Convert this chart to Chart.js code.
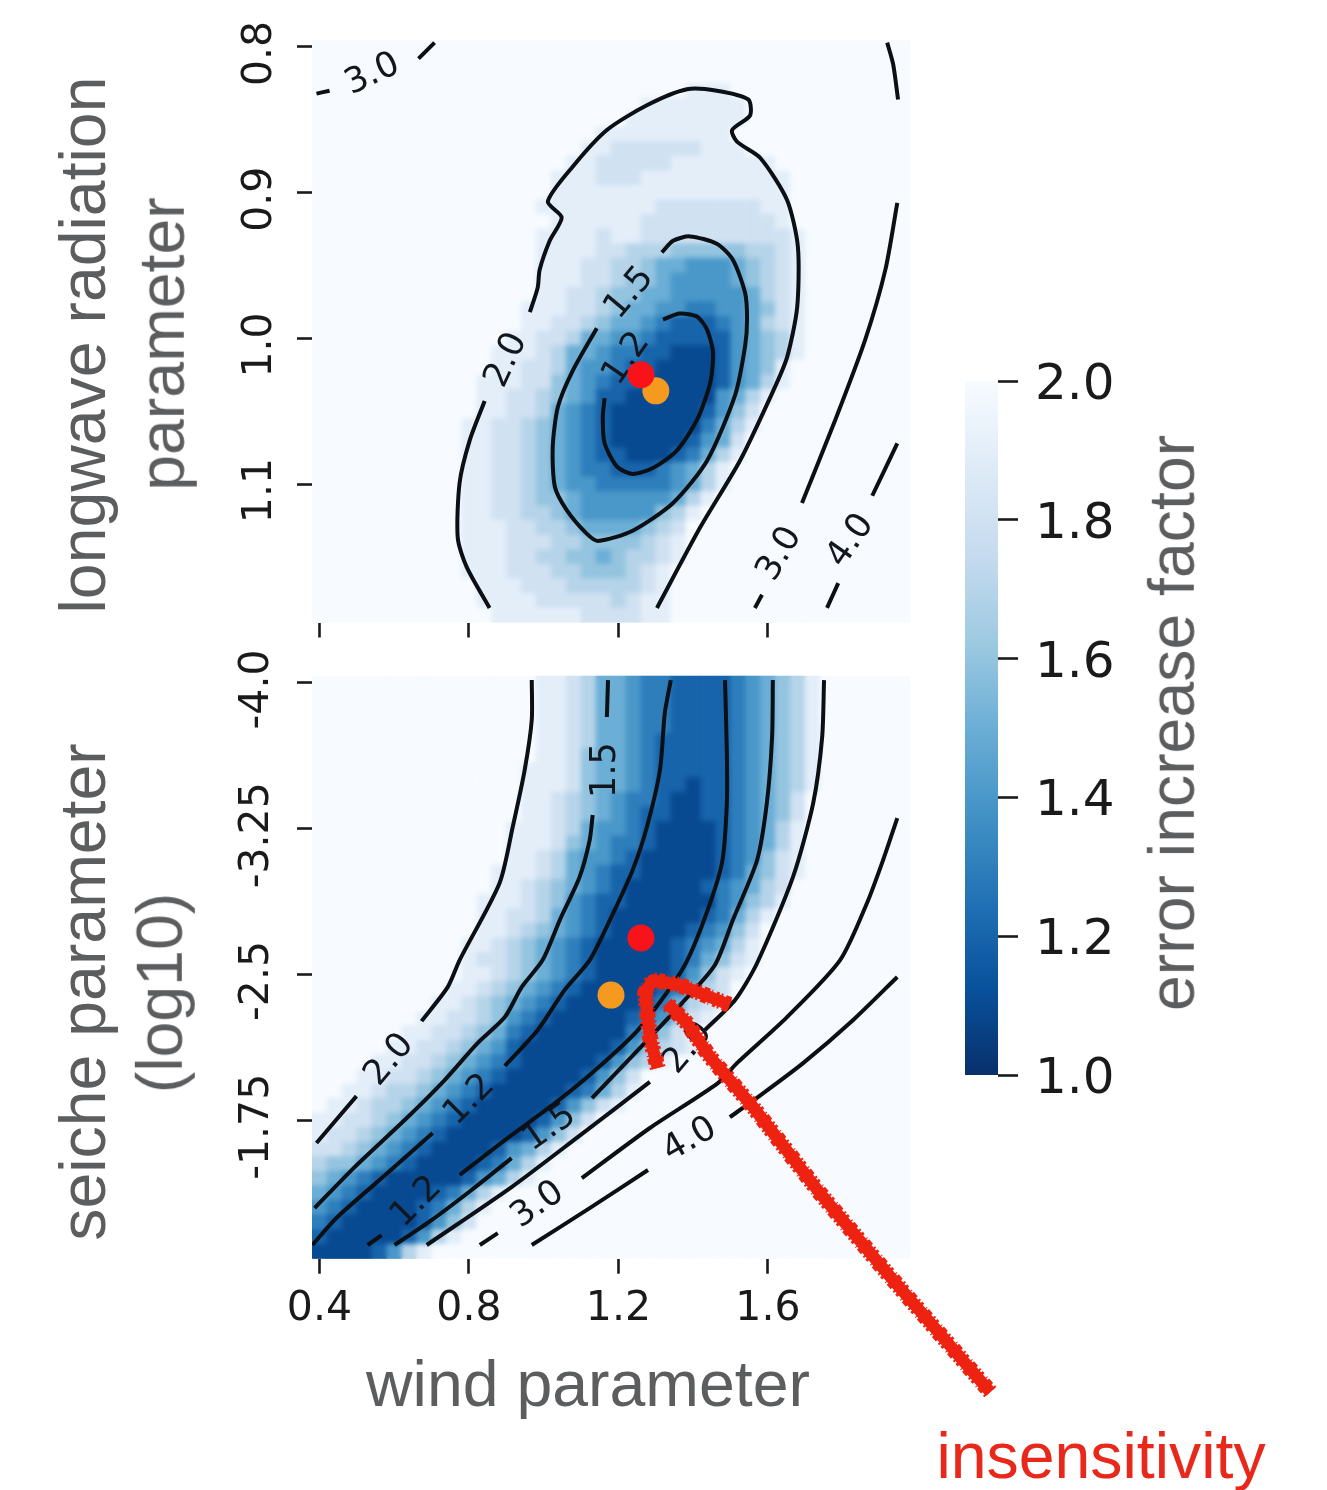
<!DOCTYPE html>
<html>
<head>
<meta charset="utf-8">
<title>error increase factor</title>
<script src="https://cdn.jsdelivr.net/npm/chart.js@4"></script>
<style>
  body { margin: 0; background: #fff; overflow: hidden; width: 1327px; height: 1490px; position: relative; }
  canvas { position: absolute; left: 0; top: 0; filter: blur(0.6px); }
  .txt {
    position: absolute; white-space: nowrap; color: #5c5d5f;
    font-family: "Liberation Sans", Arial, sans-serif; font-size: 64.4px; line-height: 1;
    transform: translate(-50%, -50%);
  }
  .v { transform: translate(-50%, -50%) rotate(-90deg); }
</style>
</head>
<body>
<canvas id="topChart" width="1327" height="1490"></canvas>
<canvas id="bottomChart" width="1327" height="1490"></canvas>
<canvas id="barChart" width="1327" height="1490"></canvas>

<div class="txt v" style="left:83px;top:345px">longwave radiation</div>
<div class="txt v" style="left:162px;top:344px">parameter</div>
<div class="txt v" style="left:83px;top:992px">seiche parameter</div>
<div class="txt v" style="left:160px;top:993px">(log10)</div>
<div class="txt" style="left:588px;top:1384px">wind parameter</div>
<div class="txt v" style="left:1172px;top:723px">error increase factor</div>
<div class="txt" style="left:1101px;top:1456px;color:#e8281a">insensitivity</div>

<script>
// ========================================
// DATA
// ========================================

const xTicks = [0.4, 0.8, 1.2, 1.6];
const xTickLabels = ["0.4", "0.8", "1.2", "1.6"];
const yTopTicks = [0.8, 0.9, 1.0, 1.1];
const yTopTickLabels = ["0.8", "0.9", "1.0", "1.1"];
const yBottomTicks = [-4.0, -3.25, -2.5, -1.75];
const yBottomTickLabels = ["-4.0", "-3.25", "-2.5", "-1.75"];
const barTicks = [1.0, 1.2, 1.4, 1.6, 1.8, 2.0];

// grid centres of the heatmaps: x starts at 0.4 step 0.04, y at the first tick
const xStart = 0.4, xStep = 0.04;
const yTopStart = 0.8, yTopStep = 0.01;
const yBottomStart = -4.0, yBottomStep = 0.075;

// one char per cell, 0-9 then a: value = 1 + char/10 (a = 2.0)
const topCells = [
  "aaaaaaaaaa aaaaaaaaaa aaaaaaaaaa aaaaaaaaaa",
  "aaaaaaaaaa aaaaaaaaaa aaaaaaaaaa aaaaaaaaaa",
  "aaaaaaaaaa aaaaaaaaaa aaaaaaaaaa aaaaaaaaaa",
  "aaaaaaaaaa aaaaaaaaaa aaaaa999aa aaaaaaaaaa",
  "aaaaaaaaaa aaaaaaaaaa aa9999999a aaaaaaaaaa",
  "aaaaaaaaaa aaaaaaaaaa a99999999a aaaaaaaaaa",
  "aaaaaaaaaa aaaaaaaaa9 99999999aa aaaaaaaaaa",
  "aaaaaaaaaa aaaaaaaa99 888888999a aaaaaaaaaa",
  "aaaaaaaaaa aaaaaaa998 8888999999 9aaaaaaaaa",
  "aaaaaaaaaa aaaaaa9998 8899999999 99aaaaaaaa",
  "aaaaaaaaaa aaaaaa9999 9999999999 99aaaaaaaa",
  "aaaaaaaaaa aaaaa99999 9998888888 99aaaaaaaa",
  "aaaaaaaaaa aaaaaa9999 9988888888 89aaaaaaaa",
  "aaaaaaaaaa aaaaa99998 9988888888 889aaaaaaa",
  "aaaaaaaaaa aaaaa99998 8777666667 789aaaaaaa",
  "aaaaaaaaaa aaaaa99988 7765544456 789aaaaaaa",
  "aaaaaaaaaa aaaaa99988 7665444456 789aaaaaaa",
  "aaaaaaaaaa aaaaa99887 6655444445 789aaaaaaa",
  "aaaaaaaaaa aaaa999887 6554433445 689aaaaaaa",
  "aaaaaaaaaa aaaa998876 5543222345 789aaaaaaa",
  "aaaaaaaaaa aaa9988755 4432222245 679aaaaaaa",
  "aaaaaaaaaa aa99987554 3322111245 679aaaaaaa",
  "aaaaaaaaaa aa99887544 3221111245 69aaaaaaaa",
  "aaaaaaaaaa a999886543 2211111245 79aaaaaaaa",
  "aaaaaaaaaa a998876542 2111111457 9aaaaaaaaa",
  "aaaaaaaaaa a998875432 1111112468 aaaaaaaaaa",
  "aaaaaaaaaa 9988765432 1111113579 aaaaaaaaaa",
  "aaaaaaaaaa 9988765432 111112458a aaaaaaaaaa",
  "aaaaaaaaaa 9988765432 211123579a aaaaaaaaaa",
  "aaaaaaaaaa 9988765433 22234579aa aaaaaaaaaa",
  "aaaaaaaaaa 9988765443 33334579aa aaaaaaaaaa",
  "aaaaaaaaaa 9988766544 4444579aaa aaaaaaaaaa",
  "aaaaaaaaaa 9988776544 444679aaaa aaaaaaaaaa",
  "aaaaaaaaaa 9998877655 55678aaaaa aaaaaaaaaa",
  "aaaaaaaaaa 9998887766 66789aaaaa aaaaaaaaaa",
  "aaaaaaaaaa 9998877665 67789aaaaa aaaaaaaaaa",
  "aaaaaaaaaa 9998887766 6789aaaaaa aaaaaaaaaa",
  "aaaaaaaaaa a999888777 7789aaaaaa aaaaaaaaaa",
  "aaaaaaaaaa a999988888 7899aaaaaa aaaaaaaaaa",
  "aaaaaaaaaa aa99999988 8899aaaaaa aaaaaaaaaa",
];

const bottomCells = [
  "aaaaaaaaaa aaaaa99875 5433222234 5679aaaaaa",
  "aaaaaaaaaa aaaaa99875 5433222234 5679aaaaaa",
  "aaaaaaaaaa aaaaa99875 5433222234 5679aaaaaa",
  "aaaaaaaaaa aaaaa99875 5433222234 5679aaaaaa",
  "aaaaaaaaaa aaaaa99875 5432222234 5679aaaaaa",
  "aaaaaaaaaa aaaaa99865 5432222234 5679aaaaaa",
  "aaaaaaaaaa aaaa999865 5432222234 5679aaaaaa",
  "aaaaaaaaaa aaaa999865 5432212234 5679aaaaaa",
  "aaaaaaaaaa aaaa998765 4332112234 568aaaaaaa",
  "aaaaaaaaaa aaaa998765 4322112234 568aaaaaaa",
  "aaaaaaaaaa aaa9998754 4321111234 579aaaaaaa",
  "aaaaaaaaaa aaa9998654 3321111234 579aaaaaaa",
  "aaaaaaaaaa aaa9987544 3211111234 689aaaaaaa",
  "aaaaaaaaaa aa99987543 2211111235 689aaaaaaa",
  "aaaaaaaaaa aa99876543 2111112345 78aaaaaaaa",
  "aaaaaaaaaa a999876432 2111111346 79aaaaaaaa",
  "aaaaaaaaaa a998875432 1111112357 9aaaaaaaaa",
  "aaaaaaaaaa a998765432 1111123468 aaaaaaaaaa",
  "aaaaaaaaaa 9987654321 1111234579 aaaaaaaaaa",
  "aaaaaaaaaa 9887654321 1111235689 aaaaaaaaaa",
  "aaaaaaaaaa 9987654321 111124689a aaaaaaaaaa",
  "aaaaaaaaa9 9876543211 11123578aa aaaaaaaaaa",
  "aaaaaaaa99 8765432111 11235789aa aaaaaaaaaa",
  "aaaaaaa998 8764321111 1234689aaa aaaaaaaaaa",
  "aaaaaa9988 7653211111 134689aaaa aaaaaaaaaa",
  "aaaaa99887 6542111111 246789aaaa aaaaaaaaaa",
  "aaaa998876 5432111112 4679aaaaaa aaaaaaaaaa",
  "aaa9988765 4321111124 68aaaaaaaa aaaaaaaaaa",
  "aa99877654 3211111235 79aaaaaaaa aaaaaaaaaa",
  "a998776543 2111112468 9aaaaaaaaa aaaaaaaaaa",
  "9988765432 111112468a aaaaaaaaaa aaaaaaaaaa",
  "9887654321 11112468aa aaaaaaaaaa aaaaaaaaaa",
  "8876543211 1124579aaa aaaaaaaaaa aaaaaaaaaa",
  "7665432111 123579aaaa aaaaaaaaaa aaaaaaaaaa",
  "6543211111 24579aaaaa aaaaaaaaaa aaaaaaaaaa",
  "5432111123 579aaaaaaa aaaaaaaaaa aaaaaaaaaa",
  "4321111235 79aaaaaaaa aaaaaaaaaa aaaaaaaaaa",
  "3211111246 8aaaaaaaaa aaaaaaaaaa aaaaaaaaaa",
  "2111112479 aaaaaaaaaa aaaaaaaaaa aaaaaaaaaa",
  "11112479aa aaaaaaaaaa aaaaaaaaaa aaaaaaaaaa",
];

// contour pieces, [x, y] in data units, broken where the inline labels sit
const topContours = [
  [[0.842,1.043],[0.802,1.070],[0.775,1.099],[0.770,1.137],[0.794,1.157],[0.855,1.185]],
  [[0.963,0.982],[0.984,0.965],[0.989,0.953],[1.016,0.933],[1.048,0.917],[1.011,0.906],[1.078,0.882],
   [1.169,0.857],[1.276,0.840],[1.383,0.829],[1.463,0.830],[1.547,0.836],[1.552,0.847],[1.504,0.857],
   [1.517,0.865],[1.579,0.876],[1.651,0.905],[1.680,0.937],[1.678,0.979],[1.651,1.013],[1.614,1.036],
   [1.525,1.084],[1.418,1.130],[1.303,1.185]],
  [[1.316,0.941],[1.346,0.933],[1.391,0.930],[1.463,0.935],[1.506,0.946],[1.539,0.969],[1.544,0.987],
   [1.539,1.005],[1.512,1.039],[1.437,1.084],[1.346,1.113],[1.238,1.132],[1.145,1.139],[1.115,1.134],
   [1.062,1.118],[1.030,1.102],[1.024,1.075],[1.038,1.047],[1.078,1.022],[1.142,0.993]],
  [[1.319,0.987],[1.364,0.983],[1.410,0.985],[1.437,0.994],[1.453,1.010],[1.445,1.031],[1.410,1.056],
   [1.356,1.077],[1.292,1.089],[1.238,1.093],[1.196,1.088],[1.163,1.072],[1.158,1.054],[1.163,1.041]],
  [[0.392,0.832],[0.427,0.830]],
  [[0.665,0.808],[0.708,0.797]],
  [[1.919,0.797],[1.935,0.812],[1.948,0.836]],
  [[1.946,0.907],[1.914,0.953],[1.860,1.001],[1.780,1.056],[1.691,1.113]],
  [[1.584,1.176],[1.565,1.185]],
  [[1.946,1.072],[1.879,1.108]],
  [[1.788,1.168],[1.758,1.185]],
];

const bottomContours = [
  [[0.968,-4.015],[0.968,-3.810],[0.949,-3.552],[0.917,-3.259],[0.882,-2.971],[0.775,-2.574],[0.743,-2.435],[0.673,-2.260]],
  [[0.499,-1.874],[0.392,-1.633]],
  [[1.172,-4.015],[1.169,-3.825]],
  [[1.131,-3.321],[1.123,-3.192],[1.096,-3.002],[1.043,-2.780],[0.997,-2.574],[0.941,-2.435],[0.896,-2.281],
   [0.823,-2.147],[0.735,-1.957],[0.628,-1.751],[0.494,-1.509],[0.387,-1.298]],
  [[1.340,-4.015],[1.324,-3.846],[1.311,-3.552],[1.276,-3.259],[1.238,-3.038],[1.177,-2.780],[1.123,-2.574],
   [1.056,-2.420],[0.984,-2.214],[0.896,-2.029]],
  [[0.703,-1.684],[0.582,-1.478],[0.448,-1.252],[0.381,-1.108]],
  [[1.485,-4.015],[1.490,-3.640],[1.490,-3.382],[1.477,-3.074],[1.426,-2.765],[1.370,-2.523],[1.252,-2.214],
   [1.129,-1.993],[1.030,-1.838],[0.896,-1.648],[0.775,-1.468]],
  [[0.566,-1.159],[0.529,-1.108]],
  [[1.613,-4.015],[1.611,-3.722],[1.597,-3.382],[1.571,-3.089],[1.506,-2.780],[1.458,-2.549],[1.370,-2.353],
   [1.252,-2.111],[1.129,-1.864]],
  [[0.914,-1.555],[0.807,-1.391],[0.700,-1.236],[0.601,-1.108]],
  [[1.750,-4.015],[1.745,-3.722],[1.721,-3.382],[1.667,-3.002],[1.571,-2.559],[1.512,-2.369],[1.431,-2.214]],
  [[1.284,-1.947],[1.091,-1.663],[0.914,-1.406],[0.687,-1.108]],
  [[1.946,-3.305],[1.908,-3.089],[1.865,-2.868],[1.793,-2.574],[1.651,-2.281],[1.517,-2.044],[1.466,-1.941],
   [1.284,-1.710],[1.102,-1.452]],
  [[0.877,-1.169],[0.829,-1.108]],
  [[1.946,-2.487],[1.828,-2.266],[1.694,-2.044],[1.573,-1.869],[1.498,-1.766]],
  [[1.279,-1.494],[1.123,-1.298],[0.968,-1.108]],
];

// [x, y, text, angle in degrees]
const topLabels = [
  [0.542, 0.819, "3.0", -25],
  [0.901, 1.015, "2.0", -65],
  [1.230, 0.969, "1.5", -50],
  [1.222, 1.014, "1.2", -55],
  [1.632, 1.148, "3.0", -60],
  [1.822, 1.139, "4.0", -55],
];
const bottomLabels = [
  [0.588, -2.060, "2.0", -50],
  [1.167, -3.552, "1.5", -90],
  [0.802, -1.854, "1.2", -45],
  [0.660, -1.329, "1.2", -45],
  [1.016, -1.710, "1.5", -35],
  [0.984, -1.313, "3.0", -35],
  [1.391, -1.648, "4.0", -30],
  [1.386, -2.121, "2.0", -50],
];

const topRed = [1.26, 1.025];
const topOrange = [1.30, 1.036];
const bottomRed = [1.26, -2.688];
const bottomOrange = [1.18, -2.394];

const arrowShaft = [[2.195,-0.351],[1.919,-0.963],[1.739,-1.375],[1.560,-1.818],[1.445,-2.075],[1.383,-2.250],[1.330,-2.353]];
const arrowHead = [[1.305,-2.019],[1.284,-2.178],[1.271,-2.405],[1.292,-2.471],[1.364,-2.446],[1.498,-2.343]];

// ========================================
// HELPERS
// ========================================

// matplotlib Blues reversed, 1.0 -> 2.0
const blues = [[8,48,107],[8,81,156],[33,113,181],[66,146,198],[107,174,214],[158,202,225],[198,219,239],[222,235,247],[247,251,255]];

function colorFor(v) {
  const t = Math.min(Math.max(v - 1, 0), 1) * 8;
  const i = Math.min(Math.floor(t), 7);
  const f = t - i;
  const c = blues[i].map((a, k) => Math.round(a + (blues[i + 1][k] - a) * f));
  return `rgb(${c[0]}, ${c[1]}, ${c[2]})`;
}

function heatPoints(rows, yStart, yStep) {
  const pts = [];
  rows.forEach((row, j) => {
    row.replace(/ /g, "").split("").forEach((ch, i) => {
      pts.push({ x: xStart + i * xStep, y: yStart + j * yStep, v: 1 + parseInt(ch, 16) / 10 });
    });
  });
  return pts;
}

const toXY = (list) => list.map((p) => ({ x: p[0], y: p[1] }));

function fixed(prop, value) {
  return (axis) => {
    axis[prop] = value;
    axis.paddingLeft = axis.paddingRight = axis.paddingTop = axis.paddingBottom = 0;
  };
}

const setTicks = (values) => (axis) => {
  axis.ticks = values.map((v) => ({ value: v }));
};

const tickGrid = {
  drawOnChartArea: false,
  tickLength: 15,
  tickWidth: 2.6,
  tickColor: "#1a1a1a",
};

// soften the heatmap once it is drawn, then put the inline contour labels on it
const heatPlugin = {
  id: "heatLayer",
  afterDatasetDraw(chart, args) {
    if (!chart.data.datasets[args.index].isHeat) return;
    const { ctx, scales, chartArea: a } = chart;
    ctx.save();
    ctx.beginPath();
    ctx.rect(a.left, a.top, a.width, a.height);
    ctx.clip();
    ctx.filter = "blur(2.5px)";
    ctx.drawImage(chart.canvas, a.left, a.top, a.width, a.height, a.left, a.top, a.width, a.height);
    ctx.restore();

    ctx.save();
    ctx.font = '35px "DejaVu Sans"';
    ctx.fillStyle = "#12161f";
    ctx.textAlign = "center";
    ctx.textBaseline = "middle";
    chart.config.options.contourLabels.forEach((l) => {
      ctx.save();
      ctx.translate(scales.x.getPixelForValue(l[0]), scales.y.getPixelForValue(l[1]));
      ctx.rotate((l[3] * Math.PI) / 180);
      ctx.fillText(l[2], 0, 0);
      ctx.restore();
    });
    ctx.restore();
  },
};

function dot(point, color) {
  return {
    data: toXY([point]),
    order: 1,
    pointRadius: 13.5,
    pointBackgroundColor: color,
    pointBorderWidth: 0,
  };
}

function arrowLine(points, width, dash) {
  return {
    data: toXY(points),
    order: 0,
    showLine: true,
    clip: false,
    pointRadius: 0,
    borderColor: "#ee2211",
    borderWidth: width,
    borderDash: dash,
    borderCapStyle: "butt",
    borderJoinStyle: "round",
    tension: 0,
  };
}

function panel(id, opts) {
  const datasets = [];
  (opts.arrows || []).forEach((a) => {
    datasets.push(arrowLine(a, 12, []));
    datasets.push(arrowLine(a, 16, [2, 3, 6, 2, 1, 4, 3, 2]));
  });
  datasets.push(dot(opts.red, "#f8131a"));
  datasets.push(dot(opts.orange, "#f59a1e"));
  opts.contours.forEach((c) => {
    datasets.push({
      data: toXY(c),
      order: 2,
      showLine: true,
      pointRadius: 0,
      borderColor: "#0c0f14",
      borderWidth: 4,
      tension: 0.25,
    });
  });
  datasets.push({
    data: heatPoints(opts.cells, opts.yStart, opts.yStep),
    order: 3,
    isHeat: true,
    pointStyle: "rect",
    pointRadius: 10.9,
    pointBorderWidth: 0,
    pointBackgroundColor: (c) => colorFor(c.raw.v),
  });

  return new Chart(document.getElementById(id), {
    type: "scatter",
    data: { datasets: datasets },
    plugins: [heatPlugin],
    options: {
      responsive: false,
      animation: false,
      events: [],
      contourLabels: opts.labels,
      layout: { padding: { left: 0, top: opts.top, right: 417, bottom: 0 } },
      plugins: { legend: { display: false }, tooltip: { enabled: false } },
      scales: {
        x: {
          min: 0.38,
          max: 1.98,
          afterBuildTicks: setTicks(xTicks),
          afterFit: fixed("height", 1490 - opts.bottom),
          grid: tickGrid,
          border: { display: false },
          ticks: {
            display: opts.showX,
            autoSkip: false,
            maxRotation: 0,
            padding: 11,
            color: "#1a1a1a",
            font: { family: "DejaVu Sans", size: 41 },
            callback: (v, i) => xTickLabels[i],
          },
        },
        y: {
          reverse: true,
          min: opts.yMin,
          max: opts.yMax,
          afterBuildTicks: setTicks(opts.yTicks),
          afterFit: fixed("width", 312),
          grid: tickGrid,
          border: { display: false },
          ticks: {
            autoSkip: false,
            minRotation: 90,
            maxRotation: 90,
            crossAlign: "center",
            padding: opts.yPad,
            color: "#1a1a1a",
            font: { family: "DejaVu Sans", size: 41 },
            // trailing space nudges the rotated label just below its tick
            callback: (v, i) => opts.yLabels[i] + " ",
          },
        },
      },
    },
  });
}

// ========================================
// CHARTS
// ========================================

panel("topChart", {
  cells: topCells,
  contours: topContours,
  labels: topLabels,
  red: topRed,
  orange: topOrange,
  yStart: yTopStart,
  yStep: yTopStep,
  yMin: 0.795,
  yMax: 1.195,
  yTicks: yTopTicks,
  yLabels: yTopTickLabels,
  yPad: -2,
  top: 39.7,
  bottom: 622.5,
  showX: false,
});

panel("bottomChart", {
  cells: bottomCells,
  contours: bottomContours,
  labels: bottomLabels,
  red: bottomRed,
  orange: bottomOrange,
  arrows: [arrowShaft, arrowHead],
  yStart: yBottomStart,
  yStep: yBottomStep,
  yMin: -4.0375,
  yMax: -1.0375,
  yTicks: yBottomTicks,
  yLabels: yBottomTickLabels,
  yPad: -20,
  top: 675.7,
  bottom: 1258.7,
  showX: true,
});

// colorbar, one floating bar with the colormap as gradient
new Chart(document.getElementById("barChart"), {
  type: "bar",
  data: {
    labels: ["error increase factor"],
    datasets: [
      {
        data: [[1, 2]],
        barPercentage: 1,
        categoryPercentage: 1,
        backgroundColor: (c) => {
          const area = c.chart.chartArea;
          if (!area) return "#08306b";
          const g = c.chart.ctx.createLinearGradient(0, area.bottom, 0, area.top);
          blues.forEach((b, i) => g.addColorStop(i / 8, colorFor(1 + i / 8)));
          return g;
        },
      },
    ],
  },
  options: {
    responsive: false,
    animation: false,
    events: [],
    layout: { padding: { left: 965, top: 381, right: 0, bottom: 415 } },
    plugins: { legend: { display: false }, tooltip: { enabled: false } },
    scales: {
      x: { display: false },
      y: {
        position: "right",
        min: 1,
        max: 2,
        afterBuildTicks: setTicks(barTicks),
        afterFit: fixed("width", 329),
        grid: { drawOnChartArea: false, tickLength: 20, tickWidth: 2.6, tickColor: "#1a1a1a" },
        border: { display: false },
        ticks: {
          autoSkip: false,
          padding: 17,
          color: "#1a1a1a",
          font: { family: "DejaVu Sans", size: 50, lineHeight: 0.2 },
          // empty first line drops the label a little below its tick
          callback: (v) => ["", v.toFixed(1)],
        },
      },
    },
  },
});
</script>
</body>
</html>
